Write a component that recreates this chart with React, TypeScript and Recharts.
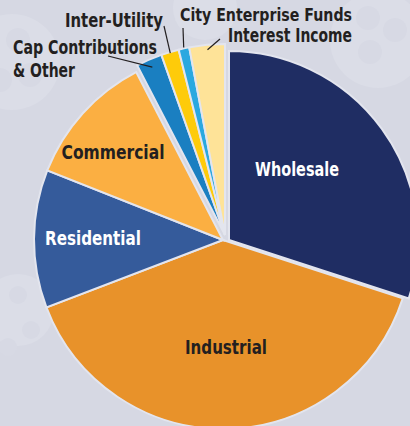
import { PieChart, Pie, Cell } from 'recharts'

const categories = [
  'Wholesale',
  'Industrial',
  'Residential',
  'Commercial',
  'Cap Contributions & Other',
  'Inter-Utility',
  'City Enterprise Funds',
  'Interest Income',
]
const shares = [30.0, 39.2, 11.8, 11.4, 2.2, 1.5, 0.9, 3.0]
const COLORS = ['#1f2d63', '#e8922a', '#355b9b', '#fbaf42', '#1a7fc1', '#fecb0a', '#2aa8e0', '#fee398']
// which layer each slice sits on (wholesale and the small slices are pulled out)
const layers = ['right', 'main', 'main', 'main', 'small', 'small', 'small', 'small']

const data = categories.map((name, i) => ({ name, value: shares[i] }))

const BG = '#d6d8e3'
const FONT = '"DejaVu Sans", sans-serif'
const DARK = '#231f20'

// inner labels: centre x, baseline y, squeezed width
const inner: Record<number, { x: number; y: number; w: number; color: string }> = {
  0: { x: 297, y: 176, w: 84, color: '#fff' },
  1: { x: 226, y: 354, w: 82, color: DARK },
  2: { x: 93, y: 245, w: 96, color: '#fff' },
  3: { x: 113, y: 159, w: 103, color: DARK },
}

// outer labels: text lines (left x, baseline y, width) and leader start
const outer: Record<number, { lines: [string, number][]; x: number; y: number; size: number; lx: number; ly: number; dr: number }> = {
  4: { lines: [['Cap Contributions', 144], ['& Other', 62]], x: 13, y: 54, size: 20, lx: 108, ly: 56, dr: -8 },
  5: { lines: [['Inter-Utility', 98]], x: 65, y: 27, size: 20, lx: 164, ly: 26, dr: -1 },
  6: { lines: [['City Enterprise Funds', 172]], x: 180, y: 21, size: 18, lx: 183, ly: 28, dr: 1 },
  7: { lines: [['Interest Income', 124]], x: 228, y: 42, size: 20, lx: 220, ly: 39, dr: -5 },
}

const RAD = Math.PI / 180

function renderLabel(props: any) {
  const { cx, cy, midAngle, outerRadius, index } = props
  if (inner[index]) {
    const l = inner[index]
    return (
      <text x={l.x} y={l.y} fill={l.color} textAnchor="middle" textLength={l.w} lengthAdjust="spacingAndGlyphs"
        style={{ fontFamily: FONT, fontWeight: 700, fontSize: 20 }}>
        {categories[index]}
      </text>
    )
  }
  const o = outer[index]
  const r = outerRadius + o.dr
  const ex = cx + r * Math.cos(-midAngle * RAD)
  const ey = cy + r * Math.sin(-midAngle * RAD)
  return (
    <g>
      <line x1={o.lx} y1={o.ly} x2={ex} y2={ey} stroke={DARK} strokeWidth={1.2} />
      {o.lines.map(([t, w], k) => (
        <text key={k} x={o.x} y={o.y + k * 23} fill={DARK} textAnchor="start" textLength={w}
          lengthAdjust="spacingAndGlyphs" style={{ fontFamily: FONT, fontWeight: 700, fontSize: o.size }}>
          {t}
        </text>
      ))}
    </g>
  )
}

function layerCells(layer: string) {
  return data.map((_, i) =>
    layers[i] === layer
      ? <Cell key={i} fill={COLORS[i]} stroke="#e3e5ee" strokeWidth={2} />
      : <Cell key={i} fill="none" stroke="none" />
  )
}

function Decor() {
  const faint = '#dbdde7'
  const dots = '#d7d9e4'
  return (
    <svg width={410} height={426} style={{ position: 'absolute', left: 0, top: 0 }}>
      <circle cx={12} cy={62} r={48} fill={faint} />
      <circle cx={18} cy={40} r={12} fill={dots} />
      <circle cx={30} cy={75} r={12} fill={dots} />
      <circle cx={0} cy={80} r={12} fill={dots} />
      <circle cx={205} cy={8} r={32} fill={faint} />
      <circle cx={378} cy={40} r={48} fill={faint} />
      <circle cx={368} cy={18} r={12} fill={dots} />
      <circle cx={395} cy={30} r={12} fill={dots} />
      <circle cx={370} cy={52} r={12} fill={dots} />
      <circle cx={18} cy={310} r={36} fill={faint} />
      <circle cx={18} cy={295} r={9} fill={dots} />
      <circle cx={31} cy={330} r={9} fill={dots} />
      <circle cx={8} cy={347} r={9} fill={dots} />
    </svg>
  )
}

export default function App() {
  return (
    <div style={{ position: 'absolute', left: 0, top: 0, width: 410, height: 426, background: BG, overflow: 'hidden' }}>
      <Decor />
      <div style={{ position: 'absolute', left: 0, top: 0 }}>
        <PieChart width={410} height={426} margin={{ top: 0, right: 0, bottom: 0, left: 0 }}>
          <Pie data={data} dataKey="value" cx={223} cy={240} outerRadius={189} startAngle={90} endAngle={-270}
            isAnimationActive={false}>
            {layerCells('main')}
          </Pie>
          <Pie data={data} dataKey="value" cx={229} cy={240} outerRadius={189} startAngle={90} endAngle={-270}
            isAnimationActive={false}>
            {layerCells('right')}
          </Pie>
          <Pie data={data} dataKey="value" cx={225} cy={235} outerRadius={191} startAngle={90} endAngle={-270}
            isAnimationActive={false} label={renderLabel} labelLine={false}>
            {layerCells('small')}
          </Pie>
        </PieChart>
      </div>
    </div>
  )
}
